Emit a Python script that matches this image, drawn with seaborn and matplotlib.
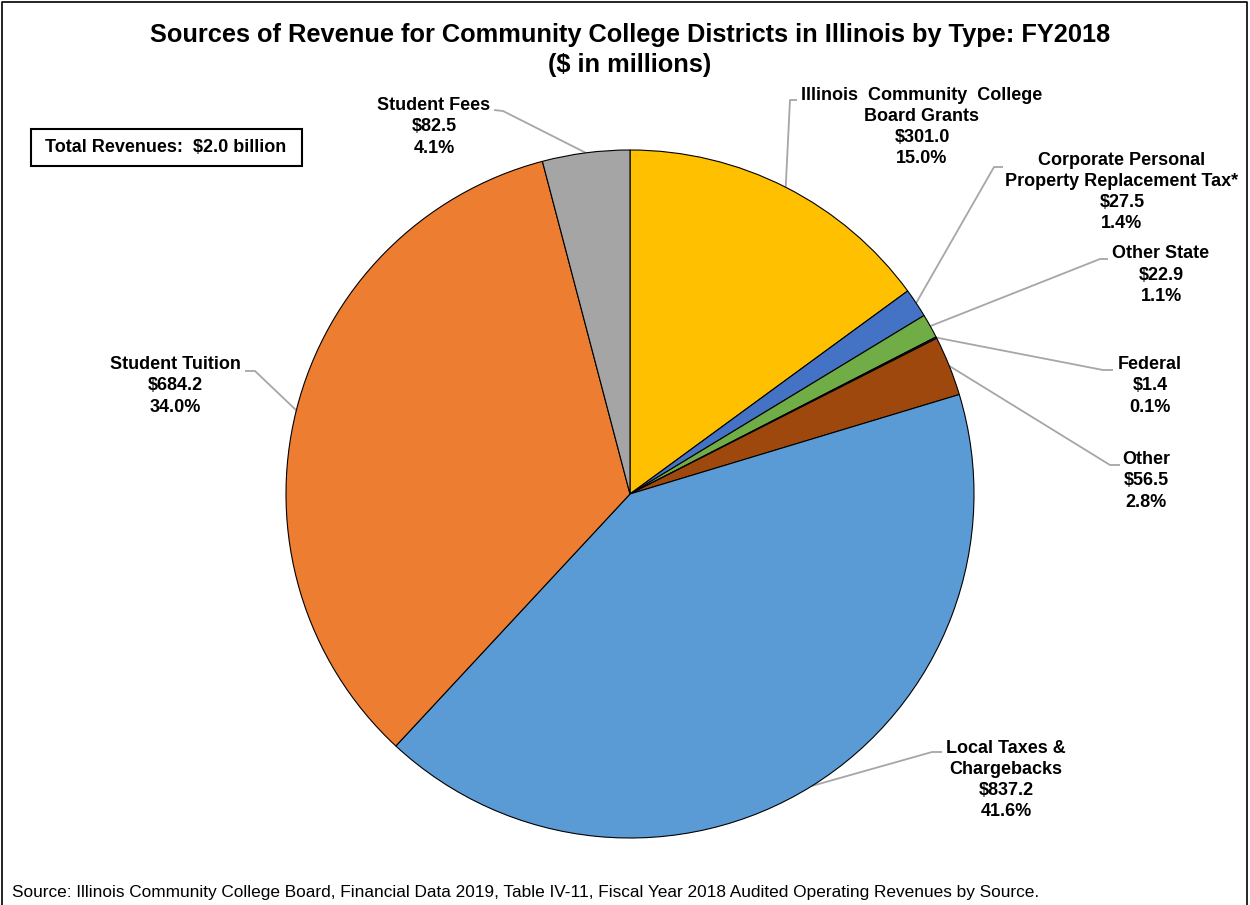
import numpy as np
import matplotlib
matplotlib.use("Agg")
import matplotlib.pyplot as plt
from matplotlib.patches import Rectangle
import seaborn as sns

# --- data ---
labels = ["Illinois  Community  College\nBoard Grants",
          "Corporate Personal\nProperty Replacement Tax*",
          "Other State",
          "Federal",
          "Other",
          "Local Taxes &\nChargebacks",
          "Student Tuition",
          "Student Fees"]
values = [301.0, 27.5, 22.9, 1.4, 56.5, 837.2, 684.2, 82.5]
colors = ["#FFC000", "#4472C4", "#70AD47", "#264478",
          "#9E480E", "#5B9BD5", "#ED7D31", "#A5A5A5"]

title = "Sources of Revenue for Community College Districts in Illinois by Type: FY2018\n($ in millions)"
total_note = "Total Revenues:  $2.0 billion"
source_note = ("Source: Illinois Community College Board, Financial Data 2019, Table IV-11, "
               "Fiscal Year 2018 Audited Operating Revenues by Source.")

# label layout in pixels (top-left origin): text center x, text center y, leader start, leader bend
label_pos = [(922, 127, (797, 100), (790, 100)),
             (1122, 192, (1003, 167), (994, 167)),
             (1161, 275, (1108, 259), (1100, 259)),
             (1150, 386, (1113, 370), (1103, 370)),
             (1146, 481, (1120, 465), (1110, 465)),
             (1006, 780, (942, 752), (932, 752)),
             (175, 386, (245, 371), (255, 371)),
             (434, 127, (494, 110), (503, 111))]

W, H = 1250, 905
sns.set_theme(style="white")
plt.rcParams["font.family"] = ["Liberation Sans", "DejaVu Sans"]
plt.rcParams["text.color"] = "black"

fig = plt.figure(figsize=(W / 100, H / 100), dpi=100)
ax = fig.add_axes([0, 0, 1, 1])

cx, cy, r = 630, H - 494, 344
wedges, _ = ax.pie(values, colors=colors, startangle=90, counterclock=False,
                   center=(cx, cy), radius=r,
                   wedgeprops=dict(edgecolor="black", linewidth=0.8))
ax.set_xlim(0, W)
ax.set_ylim(0, H)
ax.set_aspect("equal")
ax.axis("off")

total = sum(values)
for w, lab, val, (tx, ty, p0, p1) in zip(wedges, labels, values, label_pos):
    mid = np.deg2rad((w.theta1 + w.theta2) / 2)
    ex, ey = cx + r * np.cos(mid), cy + r * np.sin(mid)
    ax.plot([p0[0], p1[0], ex], [H - p0[1], H - p1[1], ey],
            color="#A6A6A6", lw=1.3, zorder=0, solid_capstyle="butt")
    ax.text(tx, H - ty, f"{lab}\n${val:.1f}\n{val / total * 100:.1f}%",
            ha="center", va="center", fontsize=13, fontweight="bold",
            linespacing=1.33)

ax.text(630, H - 50, title, ha="center", va="center", fontsize=18.3,
        fontweight="bold", linespacing=1.3)

ax.add_patch(Rectangle((31, H - 166), 271, 37, facecolor="white",
                       edgecolor="black", lw=1.5))
ax.text(166, H - 147, total_note, ha="center", va="center", fontsize=13,
        fontweight="bold")

ax.text(12, H - 892, source_note, ha="left", va="center", fontsize=12.4)

# outer frame
ax.plot([2, 2, W - 3, W - 3], [0, H - 2, H - 2, 0], color="black", lw=1.2)

fig.savefig("out.png", dpi=100)
